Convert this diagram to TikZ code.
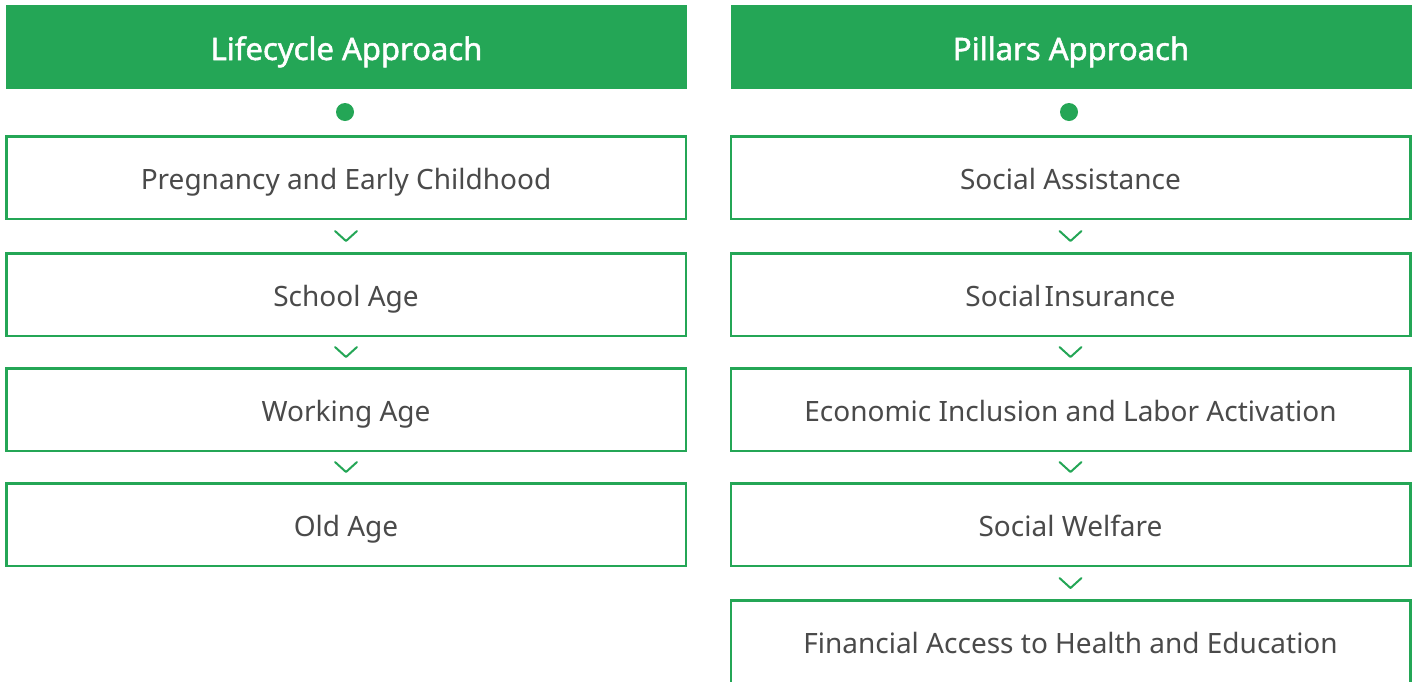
\documentclass[tikz,border=0pt]{standalone}
\usepackage{fontspec}
\setmainfont{Noto Sans}[AutoFakeBold=1.6]
\usetikzlibrary{calc}
\definecolor{grn}{HTML}{24A656}
\definecolor{txt}{HTML}{4A4A4A}
\tikzset{
  hdr/.style={fill=grn, minimum width=681pt, minimum height=84pt, inner sep=0pt, text height=26pt, text depth=0pt, text=white, font=\fontsize{31}{36}\selectfont\bfseries},
  itembox/.style={draw=grn, line width=2.5pt, fill=white, minimum width=679.5pt, minimum height=82.5pt, inner sep=0pt, text height=24.5pt, text depth=0pt, text=txt, font=\fontsize{28}{32}\selectfont},
  startdot/.style={fill=grn, circle, minimum size=18pt, inner sep=0pt},
  chev/.style={draw=grn, line width=2pt, line cap=round, line join=round}
}
\newcommand{\chevat}[2]{%
  \draw[chev] ($($(#1.south)!0.5!(#2.north)$)+(-11,-5)$) -- ($($(#1.south)!0.5!(#2.north)$)+(0,5)$) -- ($($(#1.south)!0.5!(#2.north)$)+(11,-5)$);}
\begin{document}
\begin{tikzpicture}[x=1pt,y=-1pt]
\useasboundingbox (0,0) rectangle (1416,681);
\clip (0,0) rectangle (1416,681);
% left column
\node[hdr] (lh) at (346.5,47) {Lifecycle Approach};
\node[startdot] (ld) at (345,112) {};
\node[itembox] (l1) at (346,177.5) {Pregnancy and Early Childhood};
\node[itembox] (l2) at (346,294.5) {School Age};
\node[itembox] (l3) at (346,409.5) {Working Age};
\node[itembox] (l4) at (346,524.5) {Old Age};
% right column
\node[hdr] (rh) at (1071,47) {Pillars Approach};
\node[startdot] (rd) at (1069,112) {};
\node[itembox] (r1) at (1070.5,177.5) {Social Assistance};
\node[itembox] (r2) at (1070.5,294.5) {Social\hspace{0.12em}Insurance};
\node[itembox] (r3) at (1070.5,409.5) {Economic Inclusion and Labor Activation};
\node[itembox] (r4) at (1070.5,524.5) {Social Welfare};
\node[itembox] (r5) at (1070.5,641.5) {Financial Access to Health and Education};
% chevrons
\chevat{l1}{l2}
\chevat{l2}{l3}
\chevat{l3}{l4}
\chevat{r1}{r2}
\chevat{r2}{r3}
\chevat{r3}{r4}
\chevat{r4}{r5}
\end{tikzpicture}
\end{document}
